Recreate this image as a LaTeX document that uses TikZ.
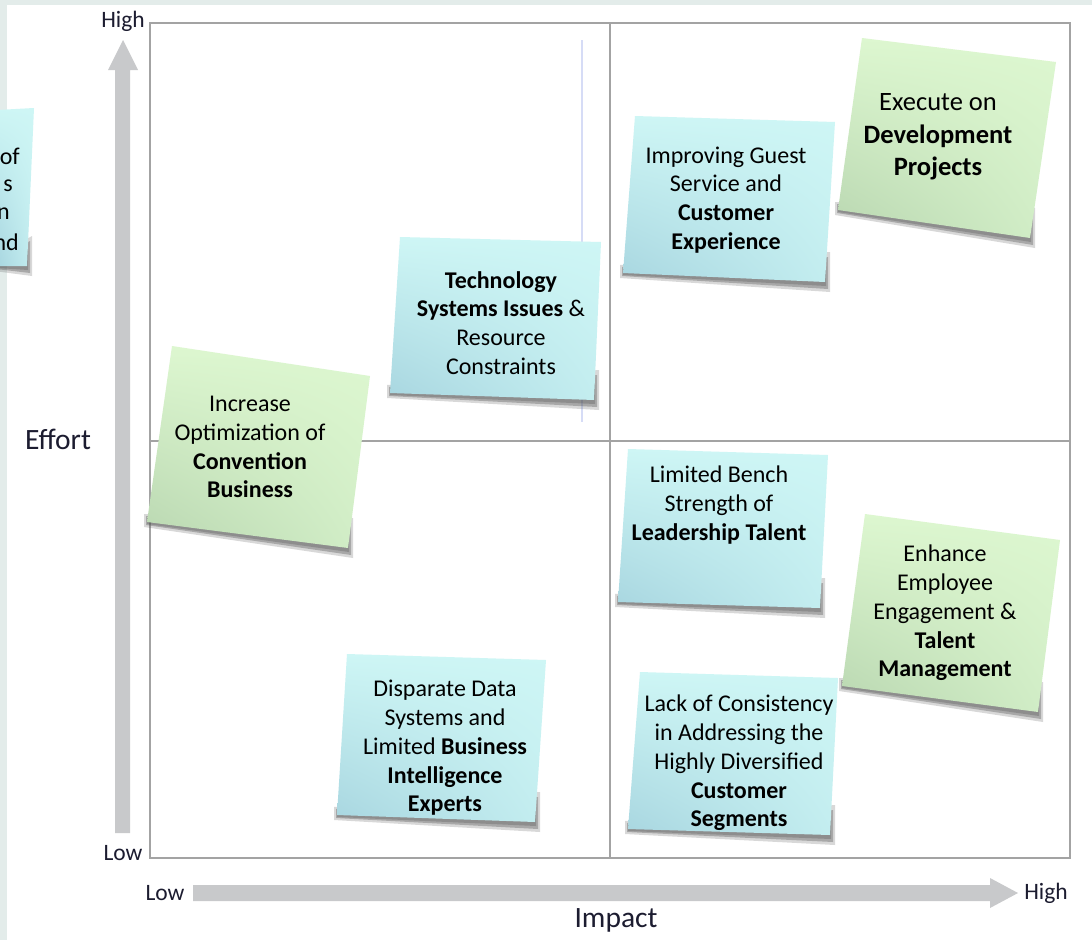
\documentclass[tikz,border=0pt]{standalone}
\usepackage{fontspec}
\setmainfont{Carlito}
\usetikzlibrary{calc,shadings}
\definecolor{bgstrip}{HTML}{E3ECEA}
\definecolor{boxline}{HTML}{A3A3A3}
\definecolor{axisgray}{HTML}{C8C9CB}
\definecolor{thinline}{HTML}{D6DCF6}
\definecolor{labelcol}{HTML}{1C1C30}
\definecolor{cyanA}{HTML}{CEF6F5}
\definecolor{cyanB}{HTML}{C4EEF0}
\definecolor{cyanC}{HTML}{A8D6E0}
\definecolor{greenA}{HTML}{DDF7D0}
\definecolor{greenB}{HTML}{D3EFC8}
\definecolor{greenC}{HTML}{B8D6B0}
\definecolor{notesh}{HTML}{505050}
\newcommand\stickynote[5]{%
  \fill[notesh, opacity=.22] ($(#5)+(-3,-8)$) -- ($(#5)+(-3,5)$) -- ($(#4)+(5,10)$) -- ($(#4)+(5,-30)$) -- cycle;
  \fill[notesh, opacity=.35] ($(#5)+(-1,-6)$) -- ($(#5)+(-1,3)$) -- ($(#4)+(3,7)$) -- ($(#4)+(3,-25)$) -- cycle;
  \fill[notesh, opacity=.3] ($(#5)+(0,-4)$) -- ($(#5)+(0,2)$) -- ($(#4)+(1,4)$) -- ($(#4)+(1,-15)$) -- cycle;
  \shade[#1] (#2) -- (#3) -- (#4) -- (#5) -- cycle;
}
\begin{document}
\begin{tikzpicture}[x=1pt,y=-1pt,
  cyannote/.style={upper left=cyanA, upper right=cyanA, lower right=cyanB, lower left=cyanC},
  greennote/.style={upper left=greenA, upper right=greenA, lower right=greenB, lower left=greenC},
  notetext/.style={align=center, inner sep=0pt, font=\fontsize{24}{28.8}\selectfont, text=black},
  bignotetext/.style={align=center, inner sep=0pt, font=\fontsize{26.5}{32.5}\selectfont, text=black},
  axlabel/.style={inner sep=0pt, text=labelcol, font=\fontsize{23.5}{26}\selectfont},
  axtitle/.style={inner sep=0pt, text=labelcol, font=\fontsize{29.5}{32}\selectfont},
  axisarrow/.style={fill=axisgray}
]
\useasboundingbox (0,0) rectangle (1092,940);
% background
\fill[white] (0,0) rectangle (1092,940);
\fill[bgstrip] (0,0) rectangle (1092,5);
\fill[bgstrip] (0,0) rectangle (7,940);
% grid box
\draw[boxline, line width=1.8pt] (150,23) rectangle (1070,858);
\draw[boxline, line width=1.6pt] (610,23) -- (610,858);
\draw[boxline, line width=1.6pt] (150,441) -- (1070,441);
\draw[thinline, line width=1.2pt] (582,40) -- (582,422);
% axes arrows
\fill[axisarrow] (115,833) -- (115,70) -- (108,70) -- (123,40) -- (138,70) -- (130,70) -- (130,833) -- cycle;
\fill[axisarrow] (193,885) -- (990,885) -- (990,878) -- (1018,893) -- (990,908) -- (990,901) -- (193,901) -- cycle;
% axis labels
\node[axlabel] (yhigh) at (123,21) {High};
\node[axlabel] (ylow) at (123,853) {Low};
\node[axlabel] (xlow) at (165,893) {Low};
\node[axlabel] (xhigh) at (1046,893) {High};
\node[axtitle] (effort) at (58,439) {Effort};
\node[axtitle] (impact) at (616,920) {Impact};
% partial note at left edge
\stickynote{cyannote}{-3,110}{34,108}{27,266}{-3,266}
\node[notetext, anchor=east] (p1) at (20,156) {of};
\node[notetext, anchor=east] (p2) at (13,186) {s};
\node[notetext, anchor=east] (p3) at (10,214) {n};
\node[notetext, anchor=east] (p4) at (19,242) {nd};
% notes
\stickynote{cyannote}{400,237}{601,242}{594,400}{390,393}
\node[notetext] (tech) at (501,323) {\textbf{Technology}\\\textbf{Systems Issues} \&\\Resource\\Constraints};
\stickynote{cyannote}{635,116}{835,122}{825,282}{623,273}
\node[notetext] (guest) at (726,200) {Improving Guest\\Service and\\\textbf{Customer}\\\textbf{Experience}};
\stickynote{greennote}{862,38}{1056,62}{1030,238}{838,210}
\node[bignotetext] (exec) at (938,137) {Execute on\\\textbf{Development}\\\textbf{Projects}};
\stickynote{greennote}{172,346}{370,376}{348,548}{147,522}
\node[notetext] (conv) at (250,447) {Increase\\Optimization of\\\textbf{Convention}\\\textbf{Business}};
\stickynote{cyannote}{628,449}{828,455}{820,608}{618,602}
\node[notetext] (bench) at (719,505) {Limited Bench\\Strength of\\\textbf{Leadership Talent}};
\stickynote{greennote}{865,514}{1060,540}{1038,712}{842,686}
\node[notetext] (engage) at (945,613) {Enhance\\Employee\\Engagement \&\\\textbf{Talent}\\\textbf{Management}};
\stickynote{cyannote}{347,654}{546,660}{535,822}{337,815}
\node[notetext] (data) at (445,748) {Disparate Data\\Systems and\\Limited \textbf{Business}\\\textbf{Intelligence}\\\textbf{Experts}};
\stickynote{cyannote}{640,672}{838,678}{830,835}{628,829}
\node[notetext] (segments) at (739,763) {Lack of Consistency\\in Addressing the\\Highly Diversified\\\textbf{Customer}\\\textbf{Segments}};
\end{tikzpicture}
\end{document}
